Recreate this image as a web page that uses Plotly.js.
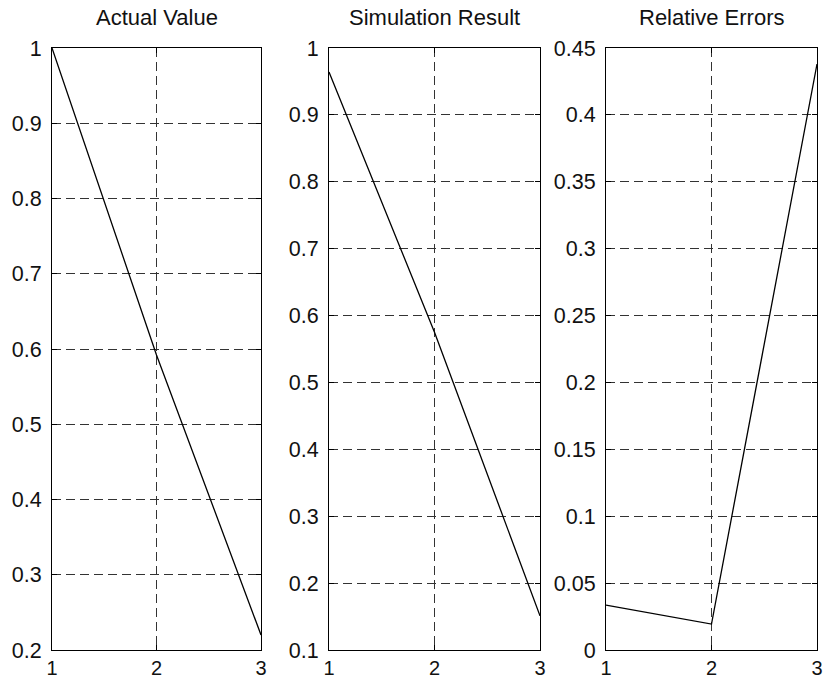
<!DOCTYPE html>
<html>
<head>
<meta charset="utf-8">
<script src="https://cdn.plot.ly/plotly-3.0.1.min.js"></script>
<style>html,body{margin:0;padding:0;background:#fff;}#chart{width:824px;height:682px;}</style>
</head>
<body>
<div id="chart"></div>
<script>
// Data
const xValues = [1, 2, 3];
const actualValue = [1.0, 0.592, 0.22];
const simulationResult = [0.964, 0.575, 0.151];
const relativeErrors = [0.0336, 0.0194, 0.438];
const panelTitles = ["Actual Value", "Simulation Result", "Relative Errors"];
const xTicks = [1, 2, 3];

const W = 824, H = 682;
const px = v => v / W;
const py = v => (H - v) / H;

const yDom = [py(650), py(48)];
const xDoms = [[px(52), px(261)], [px(329), px(540)], [px(606), px(817)]];

const font = {family: "Liberation Sans, Arial, sans-serif", size: 21.5, color: "#111"};
const xfont = {family: "Liberation Sans, Arial, sans-serif", size: 20, color: "#111"};

function xaxis(i) {
  return {
    domain: xDoms[i], range: [1, 3], tickvals: xTicks, ticktext: xTicks.map(String),
    showline: true, linecolor: "#000", linewidth: 1, mirror: "ticks",
    ticks: "inside", ticklen: 5, tickcolor: "#000",
    showgrid: true, gridcolor: "#333", gridwidth: 1, griddash: "9px,5px",
    zeroline: false, tickfont: xfont, anchor: "y" + (i ? i + 1 : ""),
    fixedrange: true, ticklabelstandoff: 0, ticklabeloverflow: "allow"
  };
}
function yaxis(i, range, dtick) {
  return {
    domain: yDom, range: range, dtick: dtick, tick0: 0,
    showline: true, linecolor: "#000", linewidth: 1, mirror: "ticks",
    ticks: "inside", ticklen: 5, tickcolor: "#000",
    showgrid: true, gridcolor: "#333", gridwidth: 1, griddash: "9px,5px",
    zeroline: false, tickfont: font, anchor: "x" + (i ? i + 1 : ""),
    fixedrange: true, ticklabelstandoff: 5, ticklabeloverflow: "allow"
  };
}

const lineStyle = {color: "#000", width: 1.3};
const data = [
  {x: xValues, y: actualValue, mode: "lines", line: lineStyle, xaxis: "x", yaxis: "y"},
  {x: xValues, y: simulationResult, mode: "lines", line: lineStyle, xaxis: "x2", yaxis: "y2"},
  {x: xValues, y: relativeErrors, mode: "lines", line: lineStyle, xaxis: "x3", yaxis: "y3"}
];

const annotations = panelTitles.map((t, i) => ({
  text: t, xref: "paper", yref: "paper",
  x: (xDoms[i][0] + xDoms[i][1]) / 2, y: py(18),
  xanchor: "center", yanchor: "middle", showarrow: false,
  font: {family: font.family, size: 22, color: "#111"}
}));

const layout = {
  width: W, height: H, showlegend: false,
  margin: {l: 0, r: 0, t: 0, b: 0, pad: 0},
  paper_bgcolor: "#fff", plot_bgcolor: "#fff",
  xaxis: xaxis(0), xaxis2: xaxis(1), xaxis3: xaxis(2),
  yaxis: yaxis(0, [0.2, 1], 0.1),
  yaxis2: yaxis(1, [0.1, 1], 0.1),
  yaxis3: yaxis(2, [0, 0.45], 0.05),
  annotations: annotations
};

Plotly.newPlot("chart", data, layout, {displayModeBar: false, staticPlot: true});
</script>
</body>
</html>
